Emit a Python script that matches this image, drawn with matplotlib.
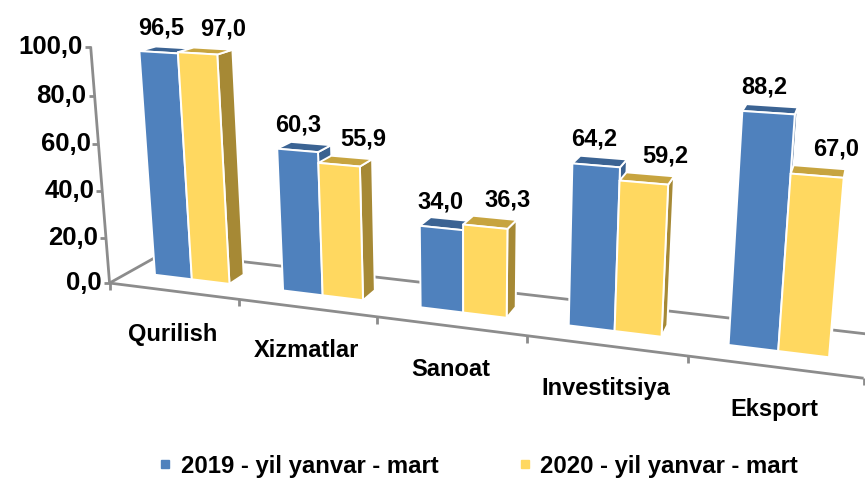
import numpy as np
import matplotlib
matplotlib.use("Agg")
import matplotlib.pyplot as plt
from matplotlib.patches import Polygon
from matplotlib.lines import Line2D

# ---------------- data ----------------
categories = ["Qurilish", "Xizmatlar", "Sanoat", "Investitsiya", "Eksport"]
series_names = ["2019 - yil yanvar - mart", "2020 - yil yanvar - mart"]
values_2019 = [96.5, 60.3, 34.0, 64.2, 88.2]
values_2020 = [97.0, 55.9, 36.3, 59.2, 67.0]
value_ticks = [0, 20, 40, 60, 80, 100]
value_tick_labels = ["0,0", "20,0", "40,0", "60,0", "80,0", "100,0"]

# ---------------- style ----------------
FONT = ["Liberation Sans", "DejaVu Sans"]
plt.rcParams["font.family"] = FONT
W, H = 865, 496
colors_front = ["#4F81BD", "#FFD860"]
colors_side = ["#3A6190", "#A68935"]
colors_top = ["#3B6393", "#C7A43F"]
axis_color = "#8C8C8C"

# ---------------- 3D frame calibration (layout of the perspective box) ----------------
# world: X = category units, Y = fraction of floor depth, Z = value units
axis_px = np.array([[110, 282], [106, 237], [102, 191], [98, 144], [94, 96], [90, 47]], float)
front_px = np.array([[110, 282], [238, 300], [377, 317], [527, 337], [689, 357], [863, 376]], float)
depth_px = np.array([[152, 262]], float)
back_px = np.array([[253, 262], [560, 298], [840, 332]], float)
n_cat = len(categories)


def project(p, P):
    az, el, dist, F, x0, y0, D, hs = p
    P = np.atleast_2d(np.asarray(P, float))
    Wd = np.column_stack([P[:, 0], P[:, 1] * D, P[:, 2] * hs])
    T = np.array([n_cat / 2, D / 2, 50 * hs])
    ca, sa, ce, se = np.cos(az), np.sin(az), np.cos(el), np.sin(el)
    r = np.array([ca, sa, 0.0])
    f = np.array([-sa * ce, ca * ce, -se])
    u = np.array([-sa * se, ca * se, ce])
    C = T - dist * f
    d = Wd - C
    xc, yc, zc = d @ r, d @ u, d @ f
    return np.column_stack([x0 + F * xc / zc, y0 - F * yc / zc])


def line_dist(a, b, pts):
    d = b - a
    n = np.array([-d[1], d[0]]) / np.hypot(d[0], d[1])
    return (pts - a) @ n


def residuals(p):
    res = []
    res.extend((project(p, [[0, 0, v] for v in value_ticks]) - axis_px).ravel())
    res.extend((project(p, [[t, 0, 0] for t in range(n_cat + 1)]) - front_px).ravel())
    a, b = project(p, [[0, 0, 0], [0, 1, 0]])
    res.extend(line_dist(a, b, depth_px))
    a, b = project(p, [[0, 1, 0], [n_cat, 1, 0]])
    res.extend(line_dist(a, b, back_px))
    return np.array(res)


cam = np.array([np.radians(28), np.radians(15), 11.5, 1750.0, 480.0, 195.0, 0.94, 0.0176])
lam = 1e-3
cost = np.sum(residuals(cam) ** 2)
for _ in range(300):
    r0 = residuals(cam)
    J = np.empty((len(r0), len(cam)))
    for k in range(len(cam)):
        h = 1e-6 * max(1.0, abs(cam[k])) if k != 7 else 1e-7
        dp = cam.copy()
        dp[k] += h
        J[:, k] = (residuals(dp) - r0) / h
    A = J.T @ J
    g = J.T @ r0
    try:
        step = np.linalg.solve(A + lam * np.diag(np.diag(A) + 1e-12), -g)
    except np.linalg.LinAlgError:
        break
    trial = cam + step
    c_new = np.sum(residuals(trial) ** 2)
    if np.isfinite(c_new) and c_new < cost:
        cam, cost = trial, c_new
        lam = max(lam * 0.3, 1e-9)
    else:
        lam *= 10
        if lam > 1e8:
            break


def P(X, Y, Z):
    return project(cam, [[X, Y, Z]])[0]


# ---------------- figure ----------------
fig = plt.figure(figsize=(W / 100, H / 100), dpi=100)
ax = fig.add_axes([0, 0, 1, 1])
ax.set_xlim(0, W)
ax.set_ylim(H, 0)
ax.axis("off")


def seg(a, b, **kw):
    ax.plot([a[0], b[0]], [a[1], b[1]], color=axis_color, lw=2, solid_capstyle="butt", zorder=1, **kw)


# floor lines
seg(P(0, 0, 0), P(n_cat, 0, 0))
seg(P(0, 0, 0), P(0, 1, 0))
seg(P(0, 1, 0), P(n_cat, 1, 0))
for t in range(n_cat + 1):
    a = P(t, 0, 0)
    seg(a, (a[0], a[1] + 7))
# value axis
seg(P(0, 0, 0), P(0, 0, value_ticks[-1]))
for v, lab in zip(value_ticks, value_tick_labels):
    a = P(0, 0, v)
    seg((a[0] - 6, a[1]), a)
    ax.text(a[0] - 8, a[1], lab, ha="right", va="center", fontsize=18.5,
            fontweight="bold", color="black", zorder=5)

# bars
bw = 0.295
off = (1 - 2 * bw) / 2
y1, y2 = 0.355, 0.645
series = [values_2019, values_2020]
label_off = [(-6, 22), (18, 22)]
for i in range(n_cat):
    for j, vals in enumerate(series):
        v = vals[i]
        x1 = i + off + j * bw
        x2 = x1 + bw
        front = [P(x1, y1, 0), P(x2, y1, 0), P(x2, y1, v), P(x1, y1, v)]
        side = [P(x2, y1, 0), P(x2, y2, 0), P(x2, y2, v), P(x2, y1, v)]
        top = [P(x1, y1, v), P(x2, y1, v), P(x2, y2, v), P(x1, y2, v)]
        z = 2 + i * 2 + j
        for poly, col in ((side, colors_side[j]), (top, colors_top[j]), (front, colors_front[j])):
            ax.add_patch(Polygon(poly, closed=True, facecolor=col, edgecolor="white",
                                 lw=1.4, joinstyle="round", zorder=z))
        c = P((x1 + x2) / 2, (y1 + y2) / 2, v)
        ax.annotate(f"{v:.1f}".replace(".", ","), xy=c, xytext=label_off[j],
                    textcoords="offset pixels", ha="center", va="center",
                    fontsize=17, fontweight="bold", color="black", zorder=30)

# category labels
for i, cat in enumerate(categories):
    a = P(i + 0.5, 0, 0)
    ax.text(a[0], a[1] + 43, cat, ha="center", va="center", fontsize=17,
            fontweight="bold", color="black", zorder=5)

# legend
handles = [Line2D([], [], marker="s", linestyle="none", markersize=6,
                  markerfacecolor=colors_front[k], markeredgecolor=colors_front[k])
           for k in range(2)]
fig.legend(handles, series_names, loc="center", bbox_to_anchor=(478 / W, 1 - 466 / H),
           ncol=2, frameon=False, handlelength=0.6, handletextpad=0.35, columnspacing=3.3,
           prop={"family": FONT, "weight": "bold", "size": 17.2})

fig.savefig("out.png", dpi=100)
